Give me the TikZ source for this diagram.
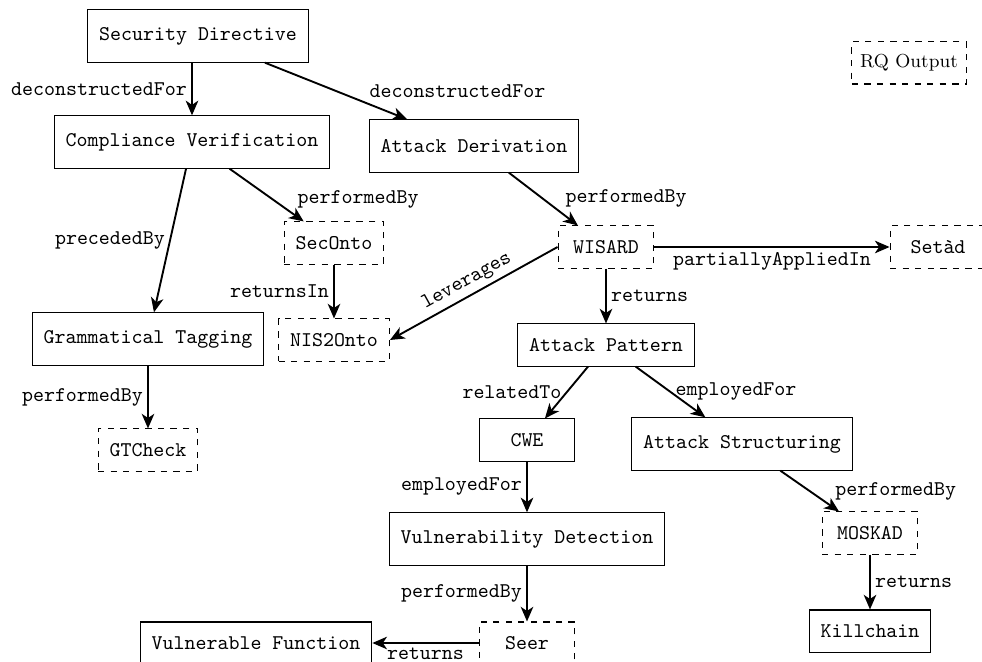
\documentclass[tikz,border=0pt]{standalone}
\usetikzlibrary{arrows.meta}
\begin{document}
\begin{tikzpicture}[x=0.478pt,y=-0.478pt,
  font=\ttfamily,
  proc/.style={draw, line width=0.5pt, inner xsep=5.5pt, minimum height=25pt, minimum width=45.8pt},
  item/.style={draw, line width=0.5pt, inner xsep=5.5pt, minimum height=20.1pt, minimum width=45.8pt},
  tool/.style={item, dashed},
  rel/.style={-{Stealth[length=7pt,width=6pt,inset=2pt]}, line width=0.9pt},
  revrel/.style={{Stealth[length=7pt,width=6pt,inset=2pt]}-, line width=0.9pt},
  lab/.style={inner sep=2pt}]
\useasboundingbox (0,0) rectangle (982,662);

% processes
\node[proc] (sd) at (198,36)  {Security Directive};
\node[proc] (cv) at (192,142) {Compliance Verification};
\node[proc] (ad) at (474,146) {Attack Derivation};
\node[proc] (gt) at (148,339) {Grammatical Tagging};
\node[proc] (as) at (742,444) {Attack Structuring};
\node[proc] (vd) at (527,539) {Vulnerability Detection};

% artefacts
\node[item] (ap) at (606,345) {Attack Pattern};
\node[item] (cwe) at (527,440) {CWE};
\node[item] (kc) at (870,631) {Killchain};
\node[item] (vf) at (256,643) {Vulnerable Function};

% tools and research outputs
\node[tool, font=\small\rmfamily, inner xsep=4pt] (rq) at (909,63) {RQ Output};
\node[tool] (so) at (334,243) {SecOnto};
\node[tool] (wis) at (606,247) {WISARD};
\node[tool] (set) at (938,247) {Setàd};
\node[tool] (nis) at (334,340) {NIS2Onto};
\node[tool] (gtc) at (148,450) {GTCheck};
\node[tool] (mos) at (870,533) {MOSKAD};
\node[tool] (seer) at (527,643) {Seer};

% relations
\draw[rel] (sd.south -| cv.north) -- (cv) node[lab, midway, left] {deconstructedFor};
\draw[rel] (sd) -- (ad) node[lab, pos=0.7, anchor=south west] {deconstructedFor};
\draw[rel] (cv) -- (gt) node[lab, midway, left] {precededBy};
\draw[rel] (cv) -- (so) node[lab, pos=0.85, anchor=south west] {performedBy};
\draw[rel] (ad) -- (wis) node[lab, pos=0.75, anchor=south west] {performedBy};
\draw[rel] (so) -- (nis) node[lab, midway, left] {returnsIn};
\draw[revrel] (nis.east) -- (wis.west) node[lab, midway, sloped, above] {leverages};
\draw[rel] (wis) -- (set) node[lab, midway, below] {partiallyAppliedIn};
\draw[rel] (wis) -- (ap) node[lab, midway, right] {returns};
\draw[rel] (gt) -- (gtc) node[lab, midway, left] {performedBy};
\draw[rel] (ap) -- (cwe) node[lab, midway, left] {relatedTo};
\draw[rel] (ap) -- (as) node[lab, midway, right] {employedFor};
\draw[rel] (cwe) -- (vd) node[lab, midway, left] {employedFor};
\draw[rel] (as) -- (mos) node[lab, pos=0.85, anchor=south west] {performedBy};
\draw[rel] (mos) -- (kc) node[lab, midway, right] {returns};
\draw[rel] (vd) -- (seer) node[lab, midway, left] {performedBy};
\draw[rel] (seer) -- (vf) node[lab, midway, below] {returns};
\end{tikzpicture}
\end{document}
